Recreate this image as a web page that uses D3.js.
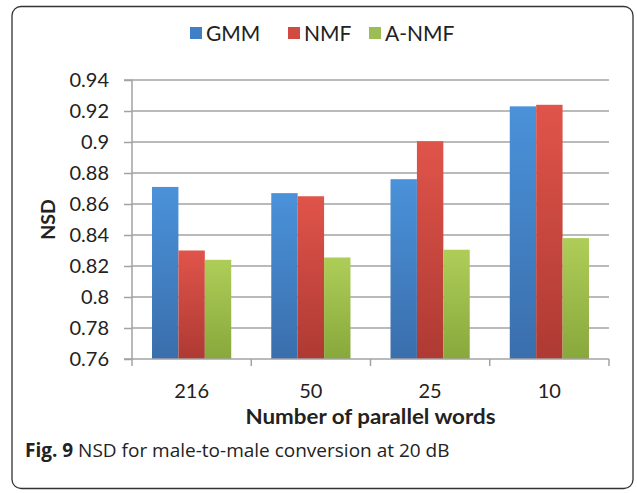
<!DOCTYPE html>
<html><head><meta charset="utf-8">
<script src="https://cdn.jsdelivr.net/npm/d3@7"></script>
<style>
body{margin:0;background:#fff;}
svg{display:block;}
</style></head>
<body>
<script>
const categories = ["216", "50", "25", "10"];
const seriesNames = ["GMM", "NMF", "A-NMF"];
const gmm = [0.871, 0.867, 0.876, 0.923];
const nmf = [0.830, 0.865, 0.9005, 0.924];
const anmf = [0.824, 0.8255, 0.8305, 0.838];
const yTicks = [0.76, 0.78, 0.8, 0.82, 0.84, 0.86, 0.88, 0.9, 0.92, 0.94];
const seriesValues = [gmm, nmf, anmf];

(function () {
const W = 637, H = 493;
const svg = d3.select("body").append("svg").attr("width", W).attr("height", H);

const font = "Lato, 'Open Sans', sans-serif";
const defs = svg.append("defs");
const grads = [
  ["#4a92da", "#3a6eac"],
  ["#e0544a", "#ae3a33"],
  ["#aecd58", "#88a83c"]
];
grads.forEach((g, i) => {
  const lg = defs.append("linearGradient").attr("id", "g" + i)
    .attr("x1", 0).attr("y1", 0).attr("x2", 0).attr("y2", 1);
  lg.append("stop").attr("offset", "0%").attr("stop-color", g[0]);
  lg.append("stop").attr("offset", "100%").attr("stop-color", g[1]);
});
const legendColors = ["#3f7fc8", "#d24b43", "#9cbd55"];

// outer frame
svg.append("rect").attr("x", 12).attr("y", 6.5).attr("width", 621).attr("height", 482)
  .attr("rx", 9).attr("fill", "none").attr("stroke", "#333").attr("stroke-width", 1.3);

const pl = 132, pr = 609, pt = 80, pb = 359;
const x0 = d3.scaleBand().domain(categories).range([pl, pr]).paddingInner(0).paddingOuter(0);
const x1 = d3.scaleBand().domain(seriesNames).range([0, x0.bandwidth()]).paddingInner(0).paddingOuter(0.758);
const y = d3.scaleLinear().domain([0.76, 0.94]).range([pb, pt]);

// gridlines
svg.append("g").selectAll("line").data(yTicks.slice(1)).join("line")
  .attr("x1", pl).attr("x2", pr)
  .attr("y1", d => y(d)).attr("y2", d => y(d))
  .attr("stroke", "#a3a3a3").attr("stroke-width", 1.5);

// y axis
const yAxis = d3.axisLeft(y).tickValues(yTicks).tickSize(8).tickPadding(15)
  .tickFormat(d => String(+d.toFixed(2)));
const gy = svg.append("g").attr("transform", `translate(${pl},0)`).call(yAxis);
gy.select(".domain").attr("stroke", "#a3a3a3").attr("stroke-width", 1.5).attr("d", `M-8,${pt}H0V${pb}H-8`);
gy.selectAll(".tick line").attr("stroke", "#a3a3a3").attr("stroke-width", 1.5);
gy.selectAll(".tick text").attr("font-family", font).attr("font-size", 20).attr("fill", "#222");

// bars
const groups = svg.append("g").selectAll("g").data(categories).join("g")
  .attr("transform", c => `translate(${x0(c)},0)`);
groups.selectAll("rect").data((c, ci) => seriesNames.map((s, si) => ({s, si, v: seriesValues[si][ci]})))
  .join("rect")
  .attr("x", d => x1(d.s)).attr("width", x1.bandwidth())
  .attr("y", d => y(d.v)).attr("height", d => pb - y(d.v))
  .attr("fill", d => `url(#g${d.si})`);

// x axis
const xAxisScale = d3.scaleLinear().domain([0, categories.length]).range([pl, pr]);
const gx = svg.append("g").attr("transform", `translate(0,${pb})`);
gx.append("line").attr("x1", pl).attr("x2", pr).attr("y1", 0).attr("y2", 0)
  .attr("stroke", "#a3a3a3").attr("stroke-width", 1.5);
gx.selectAll(".tk").data(d3.range(categories.length + 1)).join("line").attr("class", "tk")
  .attr("x1", d => xAxisScale(d)).attr("x2", d => xAxisScale(d))
  .attr("y1", 0).attr("y2", 7).attr("stroke", "#a3a3a3").attr("stroke-width", 1.5);
gx.selectAll("text").data(categories).join("text")
  .attr("x", c => x0(c) + x0.bandwidth() / 2).attr("y", 39)
  .attr("text-anchor", "middle").attr("font-family", font).attr("font-size", 20).attr("fill", "#222")
  .text(c => c);

// axis titles
svg.append("text").attr("x", (pl + pr) / 2).attr("y", 424).attr("text-anchor", "middle")
  .attr("font-family", font).attr("font-weight", "bold").attr("font-size", 20).attr("fill", "#222")
  .attr("textLength", 250).attr("lengthAdjust", "spacingAndGlyphs")
  .text("Number of parallel words");
svg.append("text").attr("transform", `translate(55,${(pt + pb) / 2}) rotate(-90)`)
  .attr("text-anchor", "middle").attr("font-family", font).attr("font-weight", "bold")
  .attr("font-size", 19.5).attr("fill", "#222").text("NSD");

// legend
const legendX = [190, 288, 369];
const lg = svg.append("g").selectAll("g").data(seriesNames).join("g")
  .attr("transform", (d, i) => `translate(${legendX[i]},27)`);
lg.append("rect").attr("width", 12).attr("height", 12).attr("fill", (d, i) => legendColors[i]);
lg.append("text").attr("x", 16).attr("y", 14).attr("font-family", font).attr("font-size", 21)
  .attr("fill", "#222").text(d => d);

// caption
const cap = svg.append("text").attr("x", 25).attr("y", 457).attr("font-family", "'Open Sans', sans-serif")
  .attr("font-size", 19).attr("fill", "#222");
cap.append("tspan").attr("font-weight", "bold").text("Fig. 9");
cap.append("tspan").text(" NSD for male-to-male conversion at 20 dB");
})();
</script>
</body></html>
